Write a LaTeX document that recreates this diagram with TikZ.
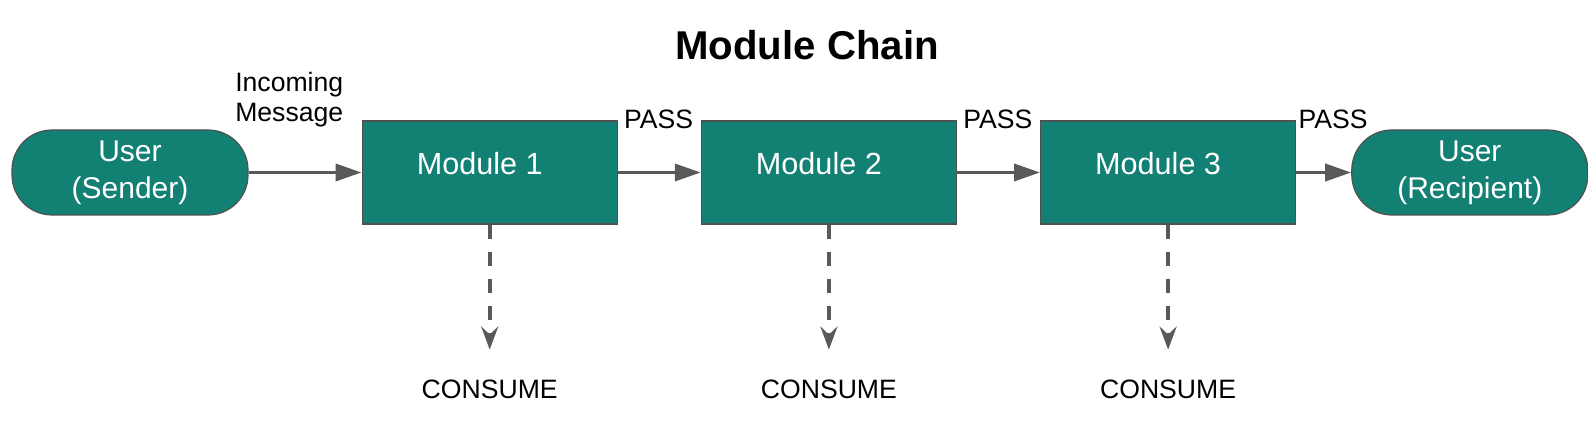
\documentclass[tikz,border=0pt]{standalone}
\usepackage{fontspec}
\setmainfont{Liberation Sans}
\usepackage{xcolor}
\usepackage{tikz}
\usetikzlibrary{positioning}
\usetikzlibrary{arrows.meta}

\definecolor{modteal}{RGB}{19,128,116}
\definecolor{edgegrey}{RGB}{80,80,80}
\definecolor{arrowgrey}{RGB}{89,89,89}

\tikzset{
  user/.style={draw=edgegrey, line width=0.6pt, fill=modteal, rounded corners=20pt,
    minimum width=118pt, minimum height=42.5pt, text=white, align=center,
    font=\fontsize{15}{18.5}\selectfont},
  module/.style={draw=edgegrey, line width=0.6pt, fill=modteal,
    minimum width=127.5pt, minimum height=51.5pt},
  modtext/.style={text=white, font=\fontsize{15.3}{18}\selectfont, xshift=-5pt, yshift=4.25pt},
  lbl/.style={font=\fontsize{13.3}{15}\selectfont, inner sep=0pt},
  pass/.style={-{Triangle[length=13pt,width=8.5pt]}, line width=1.8pt, draw=arrowgrey},
  consume/.style={-{Stealth[length=11.5pt,width=8.5pt,inset=4pt]}, line width=1.8pt,
    draw=arrowgrey, dash pattern=on 7pt off 6.5pt, shorten >=15pt},
}

\begin{document}
\begin{tikzpicture}[x=0.5pt,y=0.5pt]
\useasboundingbox (0,0) rectangle (1588,-431);

% Define nodes
\node[font=\bfseries\fontsize{20.1}{23}\selectfont, anchor=base] (title) at (807,-60) {Module Chain};
\node[user] (sender) at (130,-172.5) {User\\(Sender)};
\node[module, right =56.5pt of sender, label={[modtext]center:Module 1}] (m1) {};
\node[module, right =41.5pt of m1, label={[modtext]center:Module 2}] (m2) {};
\node[module, right =41.5pt of m2, label={[modtext]center:Module 3}] (m3) {};
\node[user, right =27.5pt of m3] (recipient) {User\\(Recipient)};

% Labels
\node[lbl, align=center, anchor=south east] (inmsg) at ([shift={(-9pt,-3.5pt)}]m1.north west) {Incoming\\Message};
\node[lbl, anchor=base west] (pass1) at ([shift={(3pt,-4pt)}]m1.north east) {PASS};
\node[lbl, anchor=base west] (pass2) at ([shift={(3pt,-4pt)}]m2.north east) {PASS};
\node[lbl, anchor=base west] (pass3) at ([shift={(1pt,-4pt)}]m3.north east) {PASS};
\node[lbl, below =77.5pt of m1] (c1) {CONSUME};
\node[lbl, below =77.5pt of m2] (c2) {CONSUME};
\node[lbl, below =77.5pt of m3] (c3) {CONSUME};

% Connect the nodes
\draw[pass] (sender) -- (m1);
\draw[pass] (m1) -- (m2);
\draw[pass] (m2) -- (m3);
\draw[pass] (m3) -- (recipient);
\draw[consume] (m1) -- (c1);
\draw[consume] (m2) -- (c2);
\draw[consume] (m3) -- (c3);
\end{tikzpicture}
\end{document}
